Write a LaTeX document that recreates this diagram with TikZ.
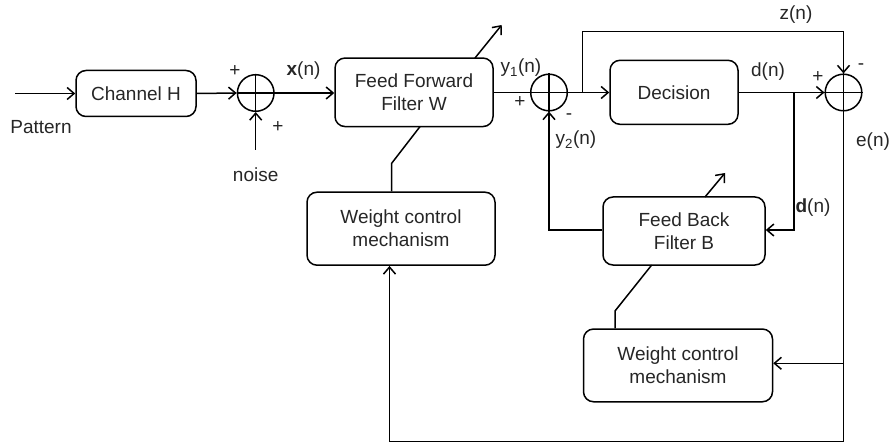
\documentclass[tikz,border=0pt]{standalone}
\usepackage{fontspec}
\setmainfont{Liberation Sans}
\usetikzlibrary{arrows.meta,calc}
\begin{document}
\begin{tikzpicture}[x=1pt,y=-1pt,
  every node/.style={font=\fontsize{19}{23}\selectfont,text=black!85},
  blk/.style={draw,rounded corners=10pt,line width=1.5pt,align=center,inner sep=0pt},
  sumc/.style={draw,circle,line width=1.5pt,minimum size=36.6pt,inner sep=0pt},
  wire/.style={line width=1.5pt},
  arr/.style={wire,-{Straight Barb[length=7pt,width=12pt,line width=1.5pt]}},
  lbl/.style={inner sep=0pt},
]
\useasboundingbox (0,0) rectangle (893,446);
% blocks
\node[blk,minimum width=120pt,minimum height=46pt] (chan) at (136,93.5) {Channel H};
\node[sumc] (s1) at (255.7,93) {};
\node[blk,minimum width=158pt,minimum height=68.5pt] (ffw) at (414,92.3) {Feed Forward\\Filter W};
\node[sumc] (s2) at (549,92.5) {};
\node[blk,minimum width=128pt,minimum height=64pt] (dec) at (674,92.3) {Decision};
\node[sumc] (s3) at (843.5,92.5) {};
\node[blk,minimum width=188pt,minimum height=73pt] (wc1) at (401,228.7) {Weight control\\mechanism};
\node[blk,minimum width=162pt,minimum height=68pt] (fb) at (684,231) {Feed Back\\Filter B};
\node[blk,minimum width=189pt,minimum height=72.7pt] (wc2) at (678,365.4) {Weight control\\mechanism};
% crosses in summers
\foreach \s in {s1,s2,s3}{
  \draw[wire] (\s.north) -- (\s.south) (\s.west) -- (\s.east);
}
% coordinates
\coordinate (in) at (15,93.5);
\coordinate (nz) at (255.7,150);
\coordinate (b1) at (582.3,92.5);
\coordinate (t1) at (582.3,31.7);
\coordinate (t2) at (843.5,31.7);
\coordinate (b2) at (794,92.5);
\coordinate (b2d) at (794,230);
\coordinate (fbl) at (549,230);
\coordinate (bot1) at (843.5,441.7);
\coordinate (bot2) at (389.5,441.7);
\coordinate (b3) at (843.5,363.3);
\coordinate (fa1) at (475,58);
\coordinate (fa2) at (501.7,25);
\coordinate (ba1) at (705,197);
\coordinate (ba2) at (725,173);
\coordinate (w1a) at (420,126.6);
\coordinate (w1b) at (391.5,163.5);
\coordinate (w2a) at (651.7,265);
\coordinate (w2b) at (615,311);
% main path
\draw[arr] (in) -- (chan.west);
\draw[arr] (chan.east) -- (s1.west);
\draw[arr] (nz) -- (s1.south);
\draw[arr] (s1.east) -- (ffw.west |- s1.east);
\draw[wire] (ffw.east |- s2.west) -- (s2.west);
\draw[arr] (s2.east) -- (dec.west |- s2.east);
\draw[arr] (dec.east |- s3.west) -- (s3.west);
\draw[arr] (b1) -- (t1) -- (t2) -- (s3.north);
\draw[arr] (b2) -- (b2d) -- (fb.east |- b2d);
\draw[arr] (fb.west |- fbl) -- (fbl) -- (s2.south);
\draw[arr] (s3.south) -- (bot1) -- (bot2) -- (wc1.south -| bot2);
\draw[arr] (b3) -- (wc2.east |- b3);
% adaptation arrows
\draw[arr] (fa1) -- (fa2);
\draw[arr] (ba1) -- (ba2);
% weight control links
\draw[wire] (w1a) -- (w1b) -- (wc1.north -| w1b);
\draw[wire] (w2a) -- (w2b) -- (wc2.north -| w2b);
% labels
\node[lbl] (lpat) at (41,127) {Pattern};
\node[lbl] (lp1) at (235,71) {+};
\node[lbl] (lp2) at (278,127) {+};
\node[lbl] (lnoise) at (255.7,175) {noise};
\node[lbl] (lx) at (303.5,71) {\textbf{x}(n)};
\node[lbl] (ly1) at (521,68) {y\textsubscript{1}(n)};
\node[lbl] (lp3) at (520,102) {+};
\node[lbl] (lm1) at (569,117) {-};
\node[lbl] (ly2) at (576,140) {y\textsubscript{2}(n)};
\node[lbl] (lz) at (796,15) {z(n)};
\node[lbl] (ld) at (768,71.5) {d(n)};
\node[lbl] (lp4) at (818,77) {+};
\node[lbl] (lm2) at (861,67) {-};
\node[lbl] (le) at (873,142) {e(n)};
\node[lbl] (ldb) at (813,208) {\textbf{d}(n)};
\end{tikzpicture}
\end{document}
